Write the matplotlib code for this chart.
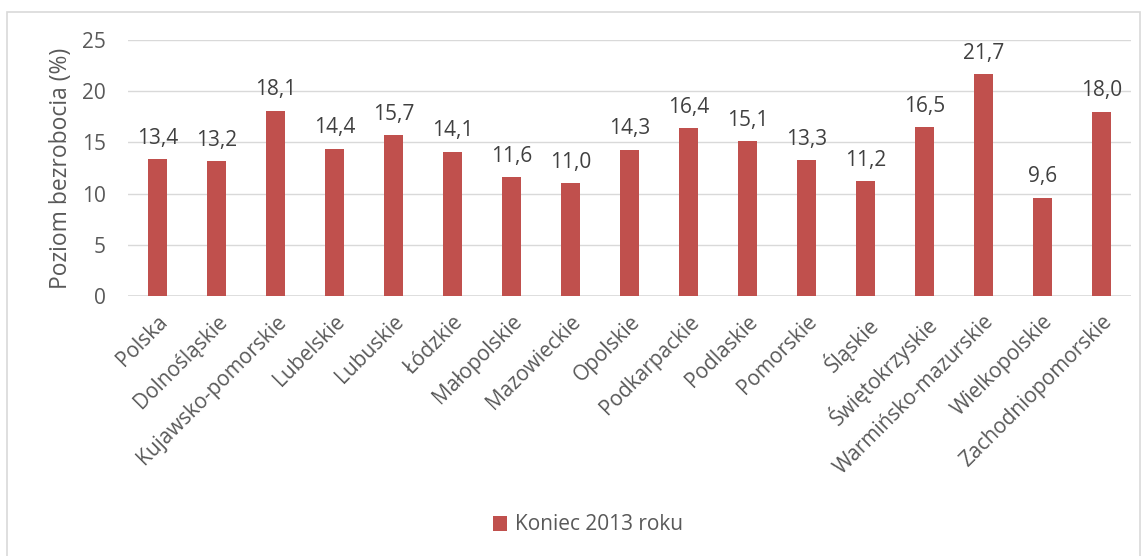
import matplotlib.pyplot as plt
from matplotlib.patches import Rectangle

regions = ["Polska", "Dolnośląskie", "Kujawsko-pomorskie", "Lubelskie", "Lubuskie",
           "Łódzkie", "Małopolskie", "Mazowieckie", "Opolskie", "Podkarpackie",
           "Podlaskie", "Pomorskie", "Śląskie", "Świętokrzyskie",
           "Warmińsko-mazurskie", "Wielkopolskie", "Zachodniopomorskie"]
rate = [13.4, 13.2, 18.1, 14.4, 15.7, 14.1, 11.6, 11.0, 14.3, 16.4,
        15.1, 13.3, 11.2, 16.5, 21.7, 9.6, 18.0]
yticks = [0, 5, 10, 15, 20, 25]

plt.rcParams['font.family'] = ['Open Sans', 'DejaVu Sans']
txt = "#595959"

fig = plt.figure(figsize=(11.46, 5.56), dpi=100)
fig.patches.append(Rectangle((7/1146, -0.01), (1140-7)/1146, 1-12/556+0.01,
                             transform=fig.transFigure, fill=False,
                             edgecolor="#d9d9d9", linewidth=1.2))
ax = fig.add_axes([128/1146, 1-296/556, (1131-128)/1146, (296-40)/556])

x = range(len(regions))
bars = ax.bar(x, rate, width=0.31, color="#C0504D", label="Koniec 2013 roku", zorder=3)
for b, v in zip(bars, rate):
    ax.text(b.get_x() + b.get_width()/2, v + 1.0, f"{v:.1f}".replace(".", ","),
            ha="center", va="bottom", fontsize=15, color="#404040")

ax.set_xlim(-0.5, len(regions) - 0.5)
ax.set_ylim(0, 25)
ax.set_yticks(yticks)
ax.yaxis.grid(True, color="#d9d9d9", linewidth=1, zorder=0)
for s in ax.spines.values():
    s.set_visible(False)
ax.axhline(0, color="#d9d9d9", linewidth=1.2, zorder=2)
ax.tick_params(length=0, labelsize=15, colors=txt)
ax.tick_params(axis="y", pad=16)
ax.tick_params(axis="x", pad=11)
ax.set_xticks(list(x))
ax.set_xticklabels(regions, rotation=45, ha="right", rotation_mode="anchor")
ax.set_ylabel("Poziom bezrobocia (%)", fontsize=16.5, color=txt, labelpad=6)

fig.legend(loc="center", bbox_to_anchor=(588/1146, 1-525/556), frameon=False,
           fontsize=15, labelcolor=txt, handlelength=0.7, handleheight=0.7,
           handletextpad=0.4)

fig.savefig("out.png", dpi=100)
